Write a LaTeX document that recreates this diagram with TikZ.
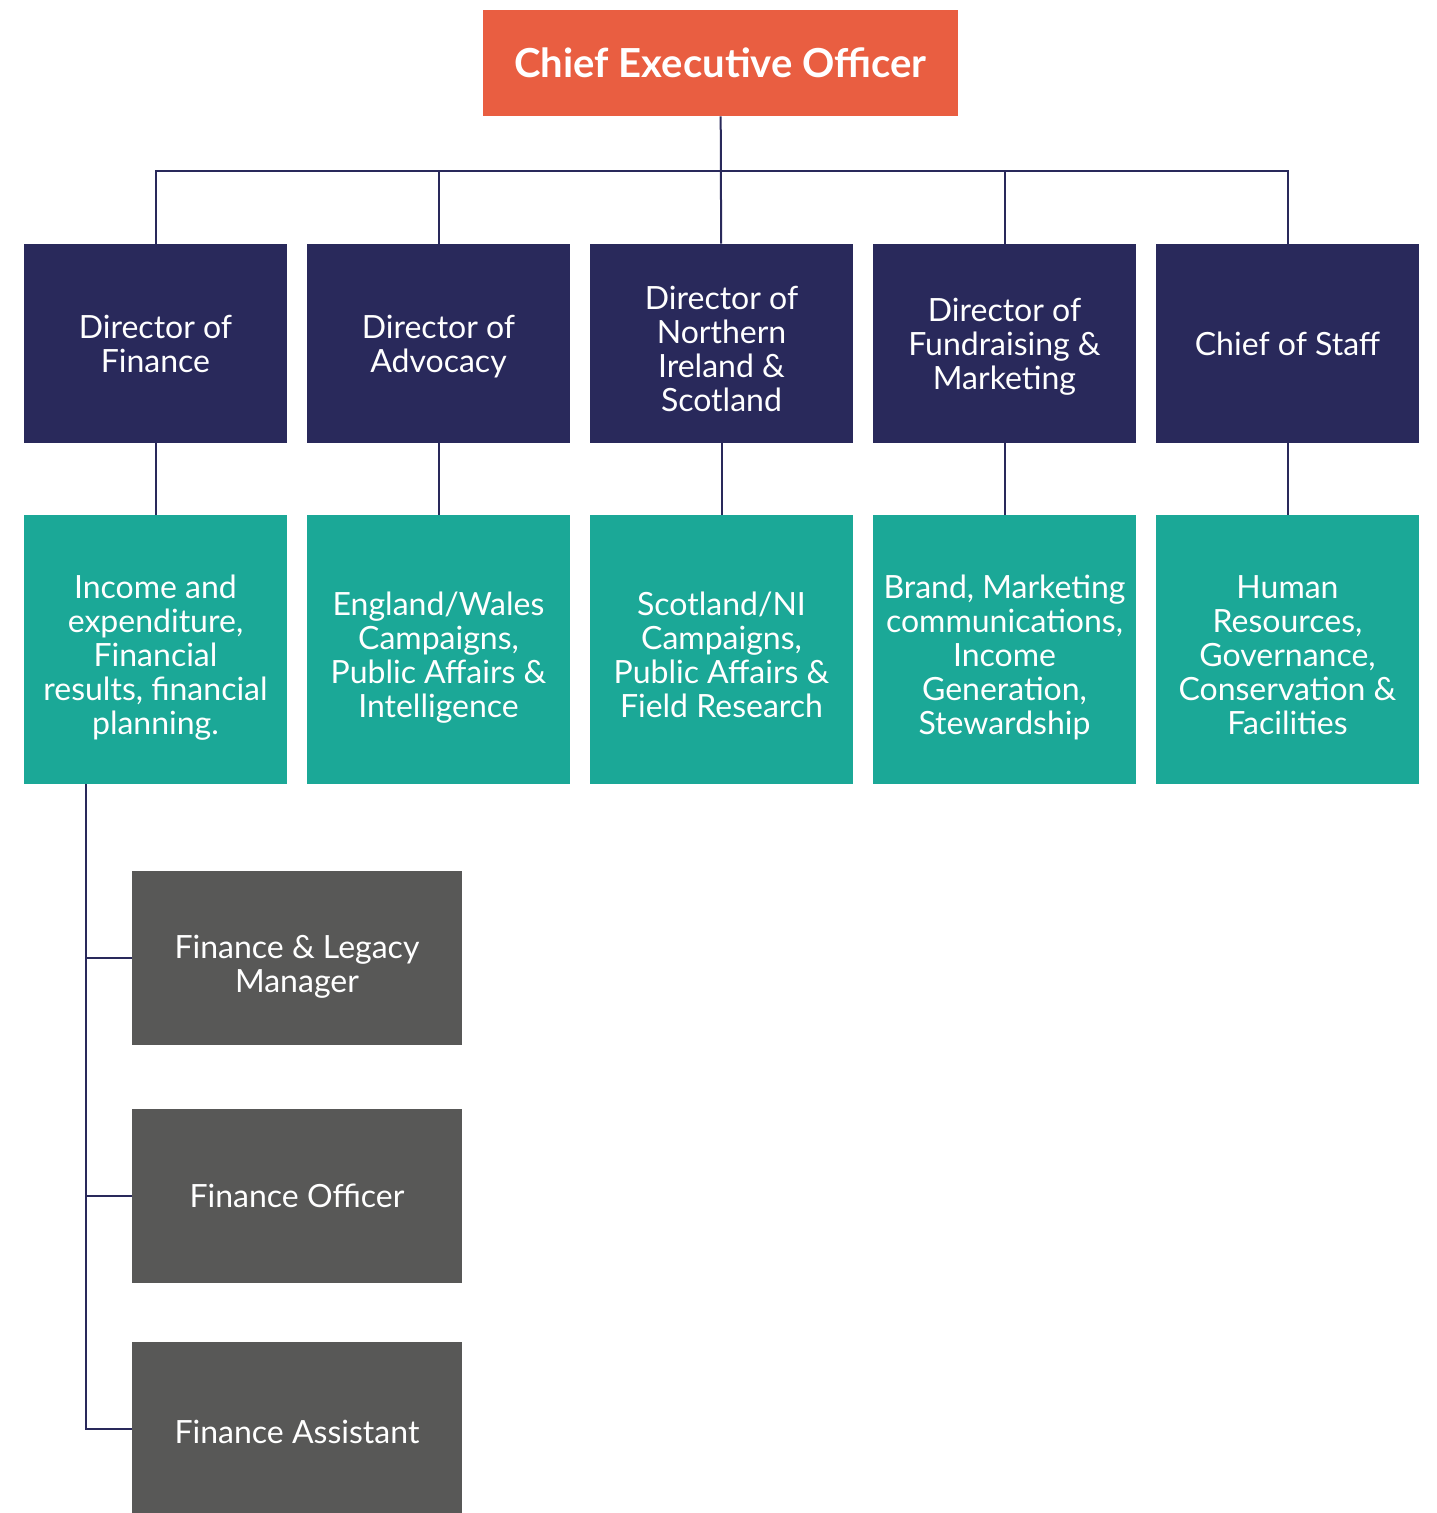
\documentclass[tikz,border=0pt]{standalone}
\usepackage{fontspec}
\setmainfont{Lato}
\usetikzlibrary{positioning}

\definecolor{ceored}{HTML}{E95E41}
\definecolor{dirnavy}{HTML}{29295B}
\definecolor{teamteal}{HTML}{1BA897}
\definecolor{staffgray}{HTML}{585857}

\tikzset{
  textblock/.style={text height=#1, text depth=4pt},
  box/.style={inner sep=0pt, align=center, text=white,
    font=\fontsize{16}{17}\selectfont},
  ceobox/.style={box, fill=ceored, minimum width=237.5pt, minimum height=53pt,
    font=\fontsize{20}{22}\bfseries\selectfont},
  dirbox/.style={box, fill=dirnavy, minimum width=131.5pt, minimum height=99.5pt},
  teambox/.style={box, fill=teamteal, minimum width=131.5pt, minimum height=134.5pt},
  staffbox/.style={box, fill=staffgray, minimum width=165pt, minimum height=87pt},
  link/.style={draw=dirnavy, line width=1pt}
}

\begin{document}
\begin{tikzpicture}[x=0.5pt,y=-0.5pt]
  \useasboundingbox (0,0) rectangle (1436,1513);
  \node[ceobox] (ceo) at (720.5,63) {Chief Executive Officer};

  % directors
  \node[dirbox, textblock=32.7pt] (dirfin) at (155.5,343.5) {Director of\\Finance};
  \node[dirbox, textblock=32.7pt] (diradv) at (438.5,343.5) {Director of\\Advocacy};
  \node[dirbox, textblock=72.2pt] (dirnis) at (721.5,343.5) {Director of\\Northern\\Ireland \&\\Scotland};
  \node[dirbox, textblock=49.7pt] (dirfun) at (1004.5,343.5) {Director of\\Fundraising \&\\Marketing};
  \node[dirbox, textblock=15.7pt] (cos) at (1287.5,343.5) {Chief of Staff};

  % teams
  \node[teambox, textblock=89.2pt] (teamfin) at (155.5,649.5) {Income and\\expenditure,\\Financial\\results, financial\\planning.};
  \node[teambox, textblock=72.2pt] (teamadv) at (438.5,649.5) {England/Wales\\Campaigns,\\Public Affairs \&\\Intelligence};
  \node[teambox, textblock=72.2pt] (teamnis) at (721.5,649.5) {Scotland/NI\\Campaigns,\\Public Affairs \&\\Field Research};
  \node[teambox, textblock=89.2pt] (teamfun) at (1004.5,649.5) {Brand, Marketing\\communications,\\Income\\Generation,\\Stewardship};
  \node[teambox, textblock=89.2pt] (teamcos) at (1287.5,649.5) {Human\\Resources,\\Governance,\\Conservation \&\\Facilities};

  % finance staff
  \node[staffbox, textblock=38.7pt] (finmgr) at (297,958) {Finance \& Legacy\\Manager};
  \node[staffbox, textblock=15.7pt] (finoff) at (297,1196) {Finance Officer};
  \node[staffbox, textblock=18.7pt] (finasst) at (297,1429) {Finance Assistant};

  \coordinate (bus) at (720.5,171);
  \coordinate (spine) at (86,784);

  \draw[link] (ceo) -- (dirnis);
  \draw[link] (dirfin.north) |- (bus) -| (cos.north);
  \draw[link] (diradv.north) -- (diradv.north |- bus);
  \draw[link] (dirfun.north) -- (dirfun.north |- bus);

  \foreach \d/\t in {dirfin/teamfin, diradv/teamadv, dirnis/teamnis, dirfun/teamfun, cos/teamcos}
    \draw[link] (\d) -- (\t);

  \draw[link] (spine) |- (finasst.west);
  \draw[link] (spine |- finmgr.west) -- (finmgr.west);
  \draw[link] (spine |- finoff.west) -- (finoff.west);
\end{tikzpicture}
\end{document}
